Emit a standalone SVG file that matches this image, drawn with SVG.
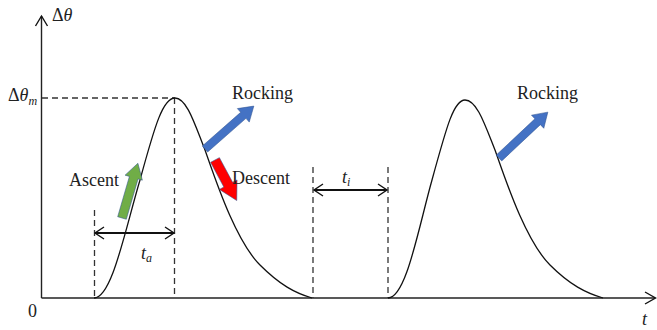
<svg xmlns="http://www.w3.org/2000/svg" width="657" height="330" viewBox="0 0 657 330">
<style>
.ax{stroke:#222;stroke-width:1.4;fill:none}
.dash{stroke:#333;stroke-width:1.3;stroke-dasharray:6,4;fill:none}
.curve{stroke:#111;stroke-width:1.3;fill:none}
.dim{stroke:#111;stroke-width:1.8;fill:none}
.chev{stroke:#111;stroke-width:1.4;fill:none}
.lbl{font-family:"Liberation Serif","Times New Roman",serif;font-size:18px;fill:#222}
.it{font-style:italic}
.sub{font-size:12px;font-style:italic}
</style>
<rect width="657" height="330" fill="#fff"/>
<g id="axes">
<line class="ax" x1="41.5" y1="298" x2="41.5" y2="16"/>
<polyline class="chev" points="35.5,26 41.5,16 47.5,26"/>
<line class="ax" x1="41.5" y1="298" x2="655" y2="298"/>
<polyline class="chev" points="645,292 655.5,298 645,304"/>
<text class="lbl" x="52" y="21">Δ<tspan class="it">θ</tspan></text>
<text class="lbl" x="8" y="101">Δ<tspan class="it">θ</tspan><tspan class="sub" dy="4">m</tspan></text>
<text class="lbl" x="28" y="317">0</text>
<text class="lbl it" x="642" y="325">t</text>
</g>
<g id="guides">
<line class="dash" x1="42" y1="98" x2="175" y2="98"/>
<line class="dash" x1="94.5" y1="210" x2="94.5" y2="298"/>
<line class="dash" x1="174.5" y1="98" x2="174.5" y2="298"/>
<line class="dash" x1="313" y1="167" x2="313" y2="298"/>
<line class="dash" x1="388" y1="167" x2="388" y2="298"/>
</g>
<g id="curves">
<path class="curve" d="M94,298 C112,298 125,230 140,180 C155,125 163,98 175,98 C187,98 195,125 205,150 C215,178 235,240 260,265 C280,285 295,293 312,298"/>
<path class="curve" d="M388,298 C406,298 418,230 432,180 C447,125 454,100 465,100 C477,100 485,125 495,150 C505,178 525,240 550,265 C570,285 586,293 603,298"/>
</g>
<g id="dimensions">
<line class="dim" x1="95" y1="233" x2="174" y2="233"/>
<polyline class="chev" points="104,227 95,233 104,239"/>
<polyline class="chev" points="165,227 174,233 165,239"/>
<text class="lbl" x="141" y="259"><tspan class="it">t</tspan><tspan class="sub" dy="3">a</tspan></text>
<line class="dim" x1="314" y1="190" x2="387" y2="190"/>
<polyline class="chev" points="323,184 314,190 323,196"/>
<polyline class="chev" points="378,184 387,190 378,196"/>
<text class="lbl" x="342" y="183"><tspan class="it">t</tspan><tspan class="sub" dy="3">i</tspan></text>
</g>
<g id="rocking1">
<polygon points="0,-4 51,-4 51,-9 65,0 51,9 51,4 0,4" fill="#4472C4" stroke="#2F528F" stroke-width="0.5" transform="translate(205,149) rotate(-41.3)"/>
<text class="lbl" x="232" y="99">Rocking</text>
</g>
<g id="rocking2">
<polygon points="0,-4 53,-4 53,-9 67,0 53,9 53,4 0,4" fill="#4472C4" stroke="#2F528F" stroke-width="0.5" transform="translate(499,158) rotate(-43.2)"/>
<text class="lbl" x="517" y="99">Rocking</text>
</g>
<g id="descent">
<polygon points="0,-5 28,-5 28,-10 46,0 28,10 28,5 0,5" fill="#FF0000" stroke="#2F528F" stroke-width="0.5" transform="translate(215,160) rotate(61.8)"/>
<text class="lbl" x="232" y="184">Descent</text>
</g>
<g id="ascent">
<polygon points="0,-4.5 42,-4.5 42,-9 57,0 42,9 42,4.5 0,4.5" fill="#70AD47" stroke="#2F528F" stroke-width="0.5" transform="translate(122,218) rotate(-73.8)"/>
<text class="lbl" x="69" y="186">Ascent</text>
</g>
</svg>
